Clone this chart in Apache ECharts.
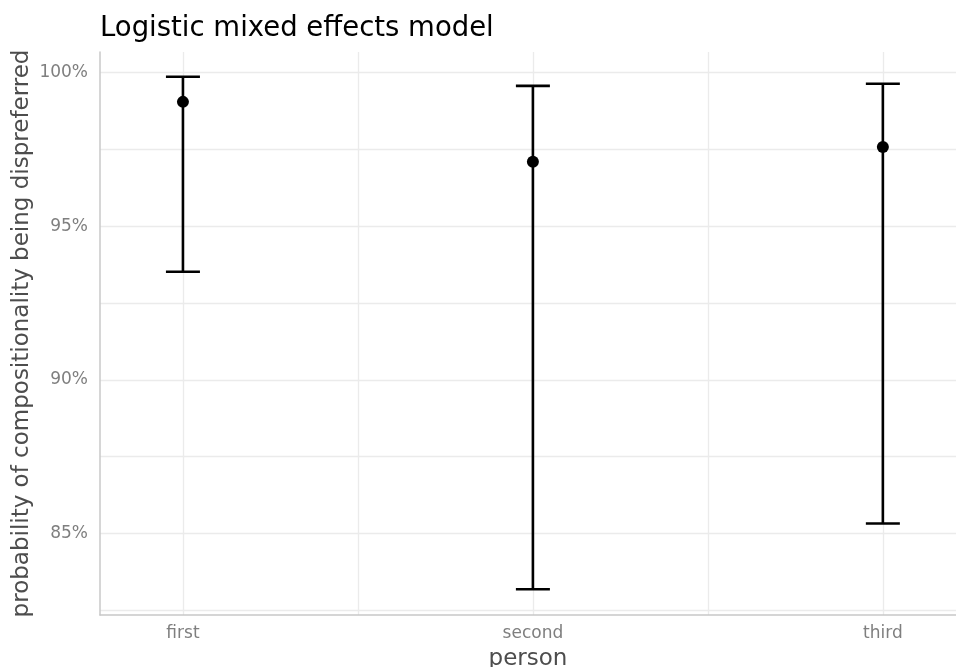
<!DOCTYPE html>
<html>
<head>
<meta charset="utf-8">
<script src="https://cdn.jsdelivr.net/npm/echarts@6/dist/echarts.min.js"></script>
<style>html,body{margin:0;padding:0;background:#fff}#c{width:956px;height:667px}</style>
</head>
<body>
<div id="c"></div>
<script>
var categories = ['first', 'second', 'third'];
var estimate = [99.05, 97.10, 97.58];
var lower = [93.52, 83.18, 85.32];
var upper = [99.87, 99.57, 99.64];
var yTickLabels = [85, 90, 95, 100];
var yGridValues = [82.5, 85, 87.5, 90, 92.5, 95, 97.5, 100];
var xTickValues = [1, 2, 3];
var xGridValues = [1, 1.5, 2, 2.5, 3];

var chart = echarts.init(document.getElementById('c'));
var errData = categories.map(function (c, i) { return [i + 1, lower[i], upper[i]]; });
var ptData = categories.map(function (c, i) { return [i + 1, estimate[i]]; });

var FONT = 'DejaVu Sans';
chart.setOption({
  animation: false,
  backgroundColor: '#ffffff',
  title: {
    text: 'Logistic mixed effects model',
    left: 95, top: 10,
    textStyle: { fontFamily: FONT, fontSize: 27.5, fontWeight: 'normal', color: '#000000' }
  },
  grid: { left: 100, right: 0, top: 52, bottom: 52, containLabel: false, outerBoundsMode: 'none' },
  xAxis: {
    type: 'value', min: 0.763, max: 3.209,
    name: 'person', nameLocation: 'middle', nameGap: 33, nameMoveOverlap: false,
    nameTextStyle: { fontFamily: FONT, fontSize: 23, color: '#4d4d4d' },
    axisLine: { show: true, onZero: false, lineStyle: { color: '#c8c8c8', width: 1.5 } },
    axisTick: { show: false, customValues: xGridValues },
    axisLabel: {
      customValues: xTickValues, margin: 10,
      fontFamily: FONT, fontSize: 17, color: '#7f7f7f',
      formatter: function (v) {
        var k = Math.round(v);
        return categories[k - 1] || '';
      }
    },
    splitLine: { show: true, lineStyle: { color: '#ebebeb', width: 1.3 } }
  },
  yAxis: {
    type: 'value', min: 82.34, max: 100.674,
    name: 'probability of compositionality being dispreferred', nameLocation: 'middle', nameGap: 66, nameMoveOverlap: false,
    nameTextStyle: { fontFamily: FONT, fontSize: 23, color: '#4d4d4d' },
    axisLine: { show: true, lineStyle: { color: '#c8c8c8', width: 1.5 } },
    axisTick: { show: false, customValues: yGridValues },
    axisLabel: {
      customValues: yTickLabels, margin: 12,
      fontFamily: FONT, fontSize: 17, color: '#7f7f7f',
      formatter: function (v) { return Math.round(v) + '%'; }
    },
    splitLine: { show: true, lineStyle: { color: '#ebebeb', width: 1.3 } }
  },
  series: [
    {
      type: 'custom',
      data: errData,
      renderItem: function (params, api) {
        var x = api.value(0);
        var lo = api.coord([x, api.value(1)]);
        var hi = api.coord([x, api.value(2)]);
        var hw = 17;
        var style = { stroke: '#000000', lineWidth: 2.6 };
        return {
          type: 'group',
          children: [
            { type: 'line', shape: { x1: lo[0], y1: lo[1], x2: hi[0], y2: hi[1] }, style: style },
            { type: 'line', shape: { x1: lo[0] - hw, y1: lo[1], x2: lo[0] + hw, y2: lo[1] }, style: style },
            { type: 'line', shape: { x1: hi[0] - hw, y1: hi[1], x2: hi[0] + hw, y2: hi[1] }, style: style }
          ]
        };
      },
      z: 2
    },
    {
      type: 'scatter',
      data: ptData,
      symbol: 'circle',
      symbolSize: 12,
      itemStyle: { color: '#000000', opacity: 1 },
      z: 3
    }
  ]
});
</script>
</body>
</html>
